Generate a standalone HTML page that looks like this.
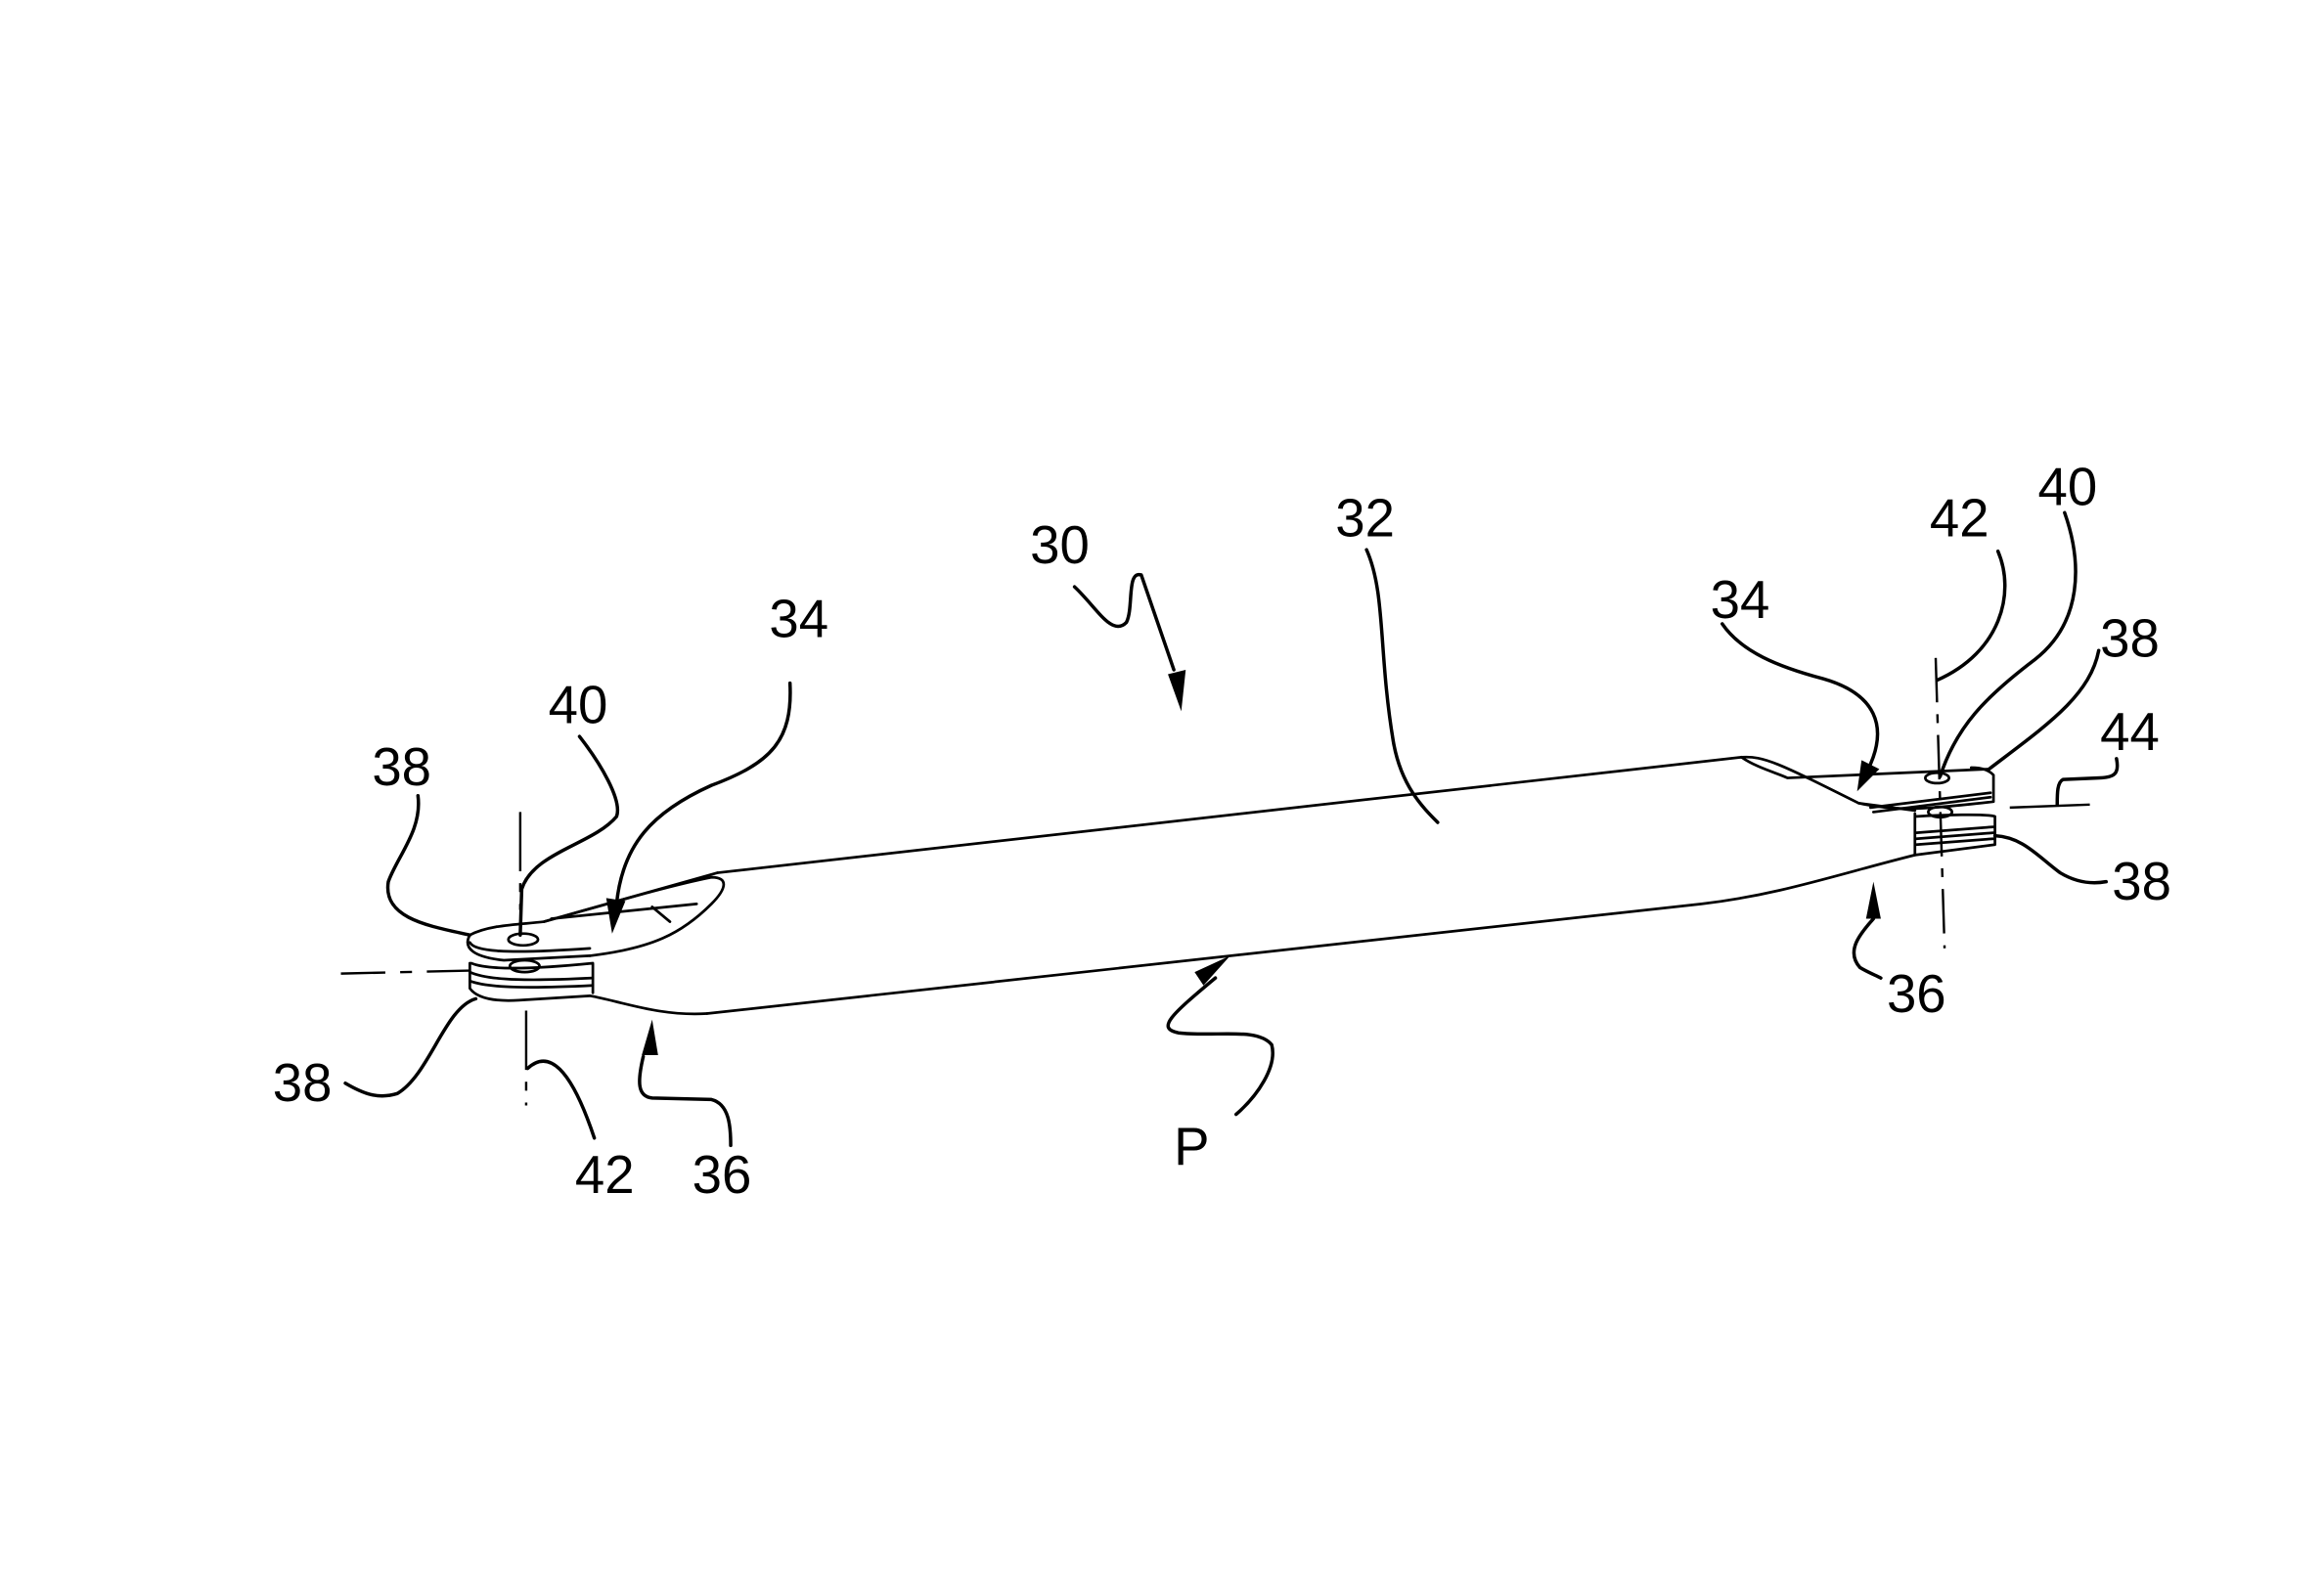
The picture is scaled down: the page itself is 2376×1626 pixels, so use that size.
<!DOCTYPE html>
<html><head><meta charset="utf-8"><style>
html,body{margin:0;padding:0;background:#fff}
svg{display:block}
text{font-family:"Liberation Sans",sans-serif;font-size:36px;fill:#000}
</style></head><body>
<svg width="2376" height="1626" viewBox="0 0 1568 1073" preserveAspectRatio="none" xmlns="http://www.w3.org/2000/svg">
<g fill="none" stroke="#000" stroke-width="1.8" stroke-linecap="round" stroke-linejoin="round">
<!-- body -->
<path d="M484 589 L1175 511"/>
<path d="M477 684 L1148 610 C1200 604 1240 590 1292 577"/>
<path d="M398 672 C420 676 445 686 477 684"/>
<!-- left tab -->
<path d="M317 631 C330 624 350 624 367 622 L484 589"/>
<path d="M367 622 C410 610 450 598 480 592 C492 592 490 600 480 610 C460 630 440 640 398 645"/>
<path d="M372 620 L470 610 M440 612 L452 622"/>
<path d="M317 631 C312 640 320 646 340 648 L398 645"/>
<path d="M317 636 C320 642 340 644 398 640"/>
<path d="M318 650 C330 655 360 654 400 650 L400 670"/>
<path d="M317 650 L317 667 C322 674 335 676 350 675 L398 672"/>
<path d="M317 656 C330 662 360 662 400 660 M317 662 C330 667 360 667 400 665"/>
<ellipse cx="353" cy="634" rx="10" ry="4"/>
<ellipse cx="354" cy="652" rx="10" ry="4"/>
<!-- right tab -->
<path d="M1175 511 C1190 510 1200 515 1254 542 L1292 547"/>
<path d="M1175 511 C1185 518 1200 522 1206 525 L1342 519"/>
<path d="M1254 542 C1280 548 1300 546 1345 541 L1345 523 C1342 520 1338 518 1330 518"/>
<path d="M1262 545 L1343 535 M1264 548 L1343 538"/>
<path d="M1292 549 L1292 577 L1346 570 L1346 551 C1340 549 1310 550 1292 551"/>
<path d="M1293 562 L1345 558 M1293 566 L1345 562 M1293 570 L1345 566"/>
<ellipse cx="1307" cy="525" rx="8" ry="3.5"/>
<ellipse cx="1309" cy="548" rx="8" ry="3.5"/>
</g>
<g fill="none" stroke="#000" stroke-width="1.6">
<path d="M351 548 L351 614 M355 682 L355 746" stroke-dasharray="40 8 6 8"/>
<path d="M230 657 L317 655" stroke-dasharray="30 10 8 10"/>
<path d="M1306 444 L1312 640" stroke-dasharray="30 8 6 8"/>
<path d="M1356 545 L1410 543"/>
</g>
<g fill="none" stroke="#000" stroke-width="2.3" stroke-linecap="round" stroke-linejoin="round">
<path d="M725 396 C740 410 750 430 760 420 C765 410 760 385 770 388 L792 452"/>
<path d="M922 371 C935 400 930 440 940 500 C945 530 960 545 970 555"/>
<path d="M533 461 C535 500 520 515 480 530 C440 548 420 570 416 610"/>
<path d="M391 497 C405 515 420 540 416 551 C400 570 360 575 352 600 L351 631"/>
<path d="M282 537 C285 560 268 578 262 595 C258 620 290 625 317 631"/>
<path d="M233 731 C245 738 255 742 268 738 C290 725 300 680 321 674"/>
<path d="M356 721 C370 708 385 720 401 768"/>
<path d="M434 713 C430 730 430 740 440 741 L480 742 C492 745 493 760 493 773"/>
<path d="M834 752 C848 740 862 720 858 705 C848 693 820 700 795 697 C780 694 790 685 820 660"/>
<path d="M1162 421 C1175 440 1200 450 1230 458 C1265 468 1275 490 1260 520"/>
<path d="M1348 372 C1360 400 1350 440 1307 459"/>
<path d="M1393 346 C1405 380 1405 420 1373 445 C1340 470 1320 490 1309 524"/>
<path d="M1416 439 C1410 470 1380 490 1342 519"/>
<path d="M1428 512 C1430 522 1427 525 1415 525 L1392 526 C1388 528 1388 535 1388 543"/>
<path d="M1421 595 C1410 597 1400 595 1390 589 C1375 578 1365 565 1346 564"/>
<path d="M1264 620 C1255 630 1245 642 1255 653 C1260 656 1265 658 1269 660"/>
</g>
<g fill="#000" stroke="none">
<polygon points="797,480 788,455 800,452"/>
<polygon points="413,630 409,606 422,608"/>
<polygon points="440,688 433,712 444,712"/>
<polygon points="830,645 806,656 812,665"/>
<polygon points="1253,534 1256,513 1268,519"/>
<polygon points="1264,595 1259,620 1269,620"/>
</g>
<text x="695" y="380">30</text>
<text x="901" y="362">32</text>
<text x="519" y="430">34</text>
<text x="370" y="488">40</text>
<text x="251" y="530">38</text>
<text x="184" y="743">38</text>
<text x="388" y="805">42</text>
<text x="467" y="805">36</text>
<text x="792" y="786">P</text>
<text x="1154" y="417">34</text>
<text x="1302" y="362">42</text>
<text x="1375" y="341">40</text>
<text x="1417" y="443">38</text>
<text x="1417" y="506">44</text>
<text x="1425" y="607">38</text>
<text x="1273" y="683">36</text>
</svg>
</body></html>
